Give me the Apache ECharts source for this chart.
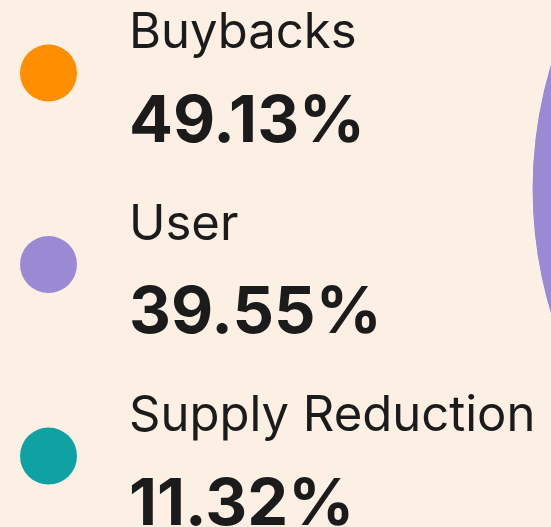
<!DOCTYPE html>
<html>
<head>
<meta charset="utf-8">
<script src="https://cdn.jsdelivr.net/npm/echarts@6/dist/echarts.min.js"></script>
<style>
  html, body { margin: 0; padding: 0; background: #fcefe4; }
  #main { width: 551px; height: 527px; }
</style>
</head>
<body>
<div id="main"></div>
<script>
// 分配比例
const categories = ['Buybacks', 'User', 'Supply Reduction']
const shares = [49.13, 39.55, 11.32]
const colors = ['#ff8f00', '#9b8ad3', '#0fa2a3']

const chart = echarts.init(document.getElementById('main'))

const option = {
  backgroundColor: '#fcefe4',
  animation: false,
  legend: {
    orient: 'vertical',
    left: 20,
    top: 9,
    height: 900,
    padding: 0,
    itemGap: 46,
    itemWidth: 57,
    itemHeight: 57,
    icon: 'circle',
    selectedMode: false,
    itemStyle: { borderWidth: 0 },
    data: categories,
    formatter: function (name) {
      const i = categories.indexOf(name)
      return '{name|' + name + '}\n{val|' + shares[i].toFixed(2) + '%}'
    },
    textStyle: {
      rich: {
        name: {
          fontFamily: 'Inter',
          fontSize: 49,
          fontWeight: 400,
          color: '#1b1b1b',
          lineHeight: 98,
          padding: [0, 0, 0, 47]
        },
        val: {
          fontFamily: 'Inter',
          fontSize: 65,
          fontWeight: 700,
          color: '#1b1b1b',
          lineHeight: 79,
          padding: [0, 0, 0, 47]
        }
      }
    }
  },
  series: [
    {
      type: 'pie',
      center: [962, 189],
      radius: 430,
      startAngle: 90,
      label: { show: false },
      labelLine: { show: false },
      silent: true,
      itemStyle: { borderColor: '#fff8f0', borderWidth: 1 },
      data: categories.map((name, i) => ({
        name: name,
        value: shares[i],
        itemStyle: { color: colors[i] }
      }))
    }
  ]
}

chart.setOption(option)
</script>
</body>
</html>
